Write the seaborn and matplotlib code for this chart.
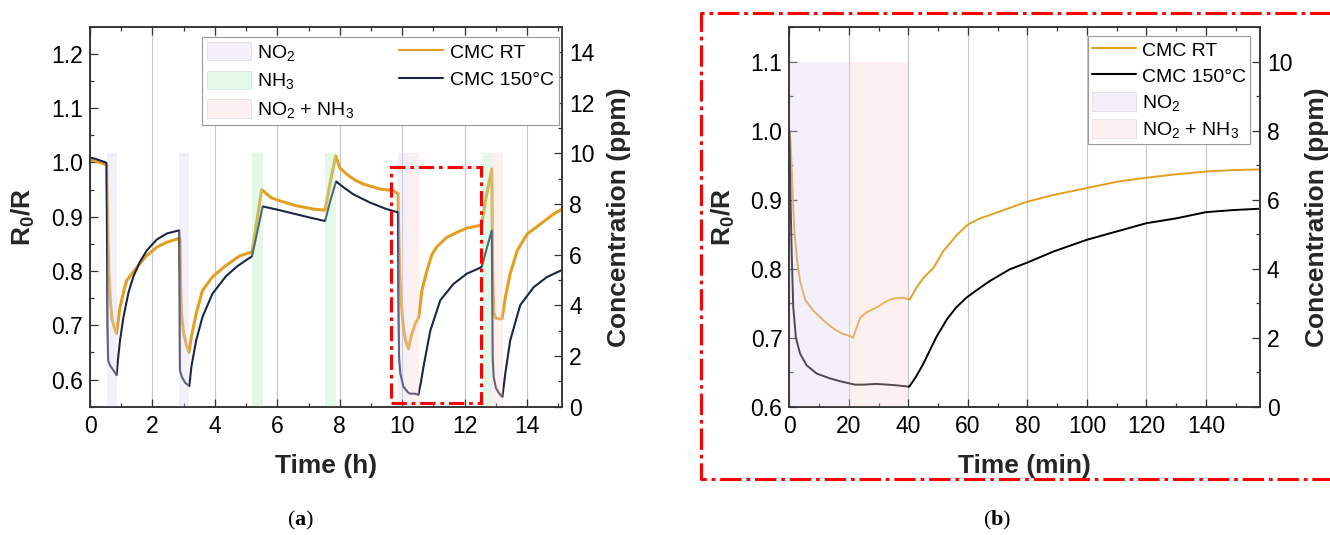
import numpy as np
import matplotlib
matplotlib.use("Agg")
import matplotlib.pyplot as plt
import seaborn as sns
from matplotlib.ticker import MultipleLocator, FormatStrFormatter
from matplotlib.patches import Patch, Rectangle
from matplotlib.lines import Line2D

# ---------------- data: panel (a) ----------------
t_a_rt = [0.00, 0.15, 0.30, 0.45, 0.53, 0.56, 0.60, 0.65, 0.70, 0.78, 0.85,
          0.96, 1.07, 1.17, 1.50, 1.81, 2.14, 2.46, 2.86,
          2.88, 2.90, 2.93, 3.00, 3.08, 3.17, 3.25, 3.40, 3.60, 3.92, 4.35, 4.80, 5.19,
          5.35, 5.50, 5.60, 5.80, 6.09, 6.62, 7.16, 7.53,
          7.70, 7.87, 8.00, 8.23, 8.50, 8.76, 9.29, 9.72, 9.87,
          9.88, 9.92, 9.97, 10.05, 10.12, 10.20, 10.30, 10.42, 10.53,
          10.63, 10.79, 10.95, 11.10, 11.43, 11.75, 12.07, 12.50,
          12.55, 12.70, 12.87, 12.90, 12.93, 13.00, 13.10, 13.20,
          13.30, 13.46, 13.68, 14.00, 14.42, 14.85, 15.13]
rt_a = [1.005, 1.003, 1.000, 0.997, 0.995, 0.900, 0.800, 0.745, 0.712, 0.695, 0.685,
        0.733, 0.760, 0.782, 0.807, 0.828, 0.844, 0.853, 0.860,
        0.860, 0.780, 0.720, 0.685, 0.665, 0.650, 0.680, 0.721, 0.764, 0.789, 0.810, 0.828, 0.835,
        0.895, 0.950, 0.945, 0.935, 0.929, 0.920, 0.914, 0.912,
        0.965, 1.012, 0.990, 0.978, 0.967, 0.960, 0.951, 0.948, 0.942,
        0.900, 0.800, 0.740, 0.690, 0.670, 0.657, 0.683, 0.703, 0.715,
        0.764, 0.800, 0.830, 0.844, 0.862, 0.871, 0.879, 0.884,
        0.887, 0.940, 0.988, 0.800, 0.725, 0.713, 0.712, 0.712,
        0.750, 0.795, 0.837, 0.868, 0.886, 0.905, 0.914]

t_a_150 = [0.00, 0.15, 0.30, 0.45, 0.53, 0.56, 0.58, 0.65, 0.75, 0.85,
           0.90, 0.96, 1.07, 1.23, 1.39, 1.60, 1.82, 2.14, 2.46, 2.86,
           2.88, 2.94, 3.05, 3.18, 3.25, 3.40, 3.60, 3.92, 4.35, 4.70, 5.00, 5.19,
           5.35, 5.53, 6.00, 6.50, 7.00, 7.53,
           7.70, 7.88, 8.10, 8.44, 8.97, 9.50, 9.87,
           9.88, 9.90, 9.94, 10.04, 10.19, 10.26, 10.40, 10.52,
           10.60, 10.68, 10.90, 11.22, 11.64, 12.07, 12.50,
           12.55, 12.70, 12.87, 12.90, 12.93, 13.00, 13.10, 13.21,
           13.30, 13.46, 13.78, 14.21, 14.64, 15.13]
c150_a = [1.009, 1.007, 1.004, 1.001, 0.999, 0.700, 0.635, 0.625, 0.617, 0.608,
          0.640, 0.672, 0.715, 0.760, 0.790, 0.817, 0.838, 0.858, 0.869, 0.875,
          0.617, 0.605, 0.594, 0.588, 0.625, 0.672, 0.715, 0.758, 0.790, 0.808, 0.820, 0.827,
          0.870, 0.919, 0.913, 0.906, 0.899, 0.892,
          0.930, 0.965, 0.955, 0.941, 0.926, 0.914, 0.908,
          0.750, 0.640, 0.611, 0.587, 0.576, 0.574, 0.574, 0.572,
          0.595, 0.623, 0.690, 0.746, 0.776, 0.795, 0.806,
          0.808, 0.840, 0.875, 0.640, 0.605, 0.585, 0.575, 0.568,
          0.610, 0.672, 0.737, 0.770, 0.789, 0.802]

band_a_start = [0.53, 2.85, 5.19, 7.53, 9.87, 10.19, 12.55, 12.87]
band_a_end = [0.85, 3.17, 5.53, 7.87, 10.19, 10.53, 12.87, 13.22]
band_a_gas = ["NO2", "NO2", "NH3", "NH3", "NO2", "MIX", "NH3", "MIX"]
band_a_conc = [10, 10, 10, 10, 10, 10, 10, 10]

# ---------------- data: panel (b) ----------------
t_b_rt = [0.0, 0.3, 0.8, 1.6, 2.5, 3.6, 5.3, 8.1, 11.5, 14.9, 17.7, 20.0, 21.4,
          23.8, 26.0, 29.4, 32.7, 35.0, 38.4, 40.4, 42.8, 45.1, 48.4, 51.8, 54.0,
          56.3, 60.0, 64.1, 67.5, 72.0, 79.8, 88.8, 100.0, 110.0, 120.1, 130.2,
          140.3, 149.3, 158.2]
rt_b = [1.000, 0.990, 0.945, 0.860, 0.815, 0.782, 0.755, 0.739, 0.725, 0.713, 0.706, 0.703, 0.700,
        0.729, 0.737, 0.744, 0.753, 0.757, 0.758, 0.755, 0.773, 0.787, 0.801, 0.826, 0.837,
        0.849, 0.864, 0.873, 0.878, 0.885, 0.897, 0.907, 0.917, 0.926, 0.932, 0.937,
        0.941, 0.943, 0.944]

t_b_150 = [0.0, 0.4, 0.8, 1.3, 2.2, 3.6, 5.8, 9.2, 13.7, 17.0, 20.0, 22.0, 25.0,
           29.3, 33.0, 36.0, 40.3, 42.5, 45.0, 49.4, 53.0, 56.1, 59.5, 63.0, 67.3,
           74.0, 80.0, 88.8, 100.0, 110.0, 120.0, 130.0, 140.0, 149.0, 158.2]
c150_b = [1.000, 0.900, 0.820, 0.745, 0.700, 0.677, 0.660, 0.648, 0.641, 0.637, 0.634, 0.632, 0.632,
          0.633, 0.632, 0.631, 0.629, 0.643, 0.662, 0.701, 0.727, 0.744, 0.758, 0.769, 0.782,
          0.799, 0.809, 0.825, 0.842, 0.854, 0.866, 0.873, 0.882, 0.885, 0.887]

band_b_start = [0, 20]
band_b_end = [20, 40]
band_b_gas = ["NO2", "MIX"]
band_b_conc = [10, 10]

gas_labels = {"NO2": "NO$_2$", "NH3": "NH$_3$", "MIX": "NO$_2$ + NH$_3$"}
gas_colors = {"NO2": "#E2D4F1", "NH3": "#B2EBC0", "MIX": "#FCD4D4"}
BAND_ALPHA = 0.35

C_RT = "#E1A023"
C_150_A = "#1B2646"
C_150_B = "#000000"

# ---------------- style ----------------
sns.set_theme(style="white")
plt.rcParams.update({
    "font.family": ["Liberation Sans", "DejaVu Sans"],
    "mathtext.fontset": "custom",
    "mathtext.rm": "Liberation Sans",
    "mathtext.bf": "Liberation Serif:bold",
    "mathtext.default": "regular",
    "axes.edgecolor": "#333333",
    "axes.linewidth": 1.1,
    "text.color": "black",
    "xtick.color": "#333333",
    "ytick.color": "#333333",
    "xtick.labelcolor": "black",
    "ytick.labelcolor": "black",
})

fig = plt.figure(figsize=(13.3, 5.35), dpi=100)
axA = fig.add_axes([0.0677, 0.2398, 0.3551, 0.7103])
axB = fig.add_axes([0.5935, 0.2398, 0.3539, 0.7092])

TICK_FS = 16.5
LABEL_FS = 19
LEG_FS = 14


def style_axes(ax, ax2, xmaj, xmin, ymaj, ymin, y2maj, y2min):
    ax.xaxis.set_major_locator(MultipleLocator(xmaj))
    ax.xaxis.set_minor_locator(MultipleLocator(xmin))
    ax.yaxis.set_major_locator(MultipleLocator(ymaj))
    ax.yaxis.set_minor_locator(MultipleLocator(ymin))
    ax.yaxis.set_major_formatter(FormatStrFormatter("%.1f"))
    ax2.yaxis.set_major_locator(MultipleLocator(y2maj))
    ax2.yaxis.set_minor_locator(MultipleLocator(y2min))
    ax.tick_params(which="both", direction="in", top=True, bottom=True,
                   left=True, right=False, width=0.9, labelsize=TICK_FS)
    ax.tick_params(which="major", length=5.5)
    ax.tick_params(which="minor", length=3)
    ax.tick_params(axis="x", pad=6)
    ax.tick_params(axis="y", pad=5)
    ax2.tick_params(which="both", direction="in", right=True, left=False,
                    width=0.9, labelsize=TICK_FS, pad=5)
    ax2.tick_params(which="major", length=5.5)
    ax2.tick_params(which="minor", length=3)
    ax.grid(False)
    ax2.grid(False)
    ax.grid(axis="x", which="major", color="#C8C8C8", lw=0.9)
    for sp in list(ax.spines.values()) + list(ax2.spines.values()):
        sp.set_linewidth(1.1)
        sp.set_color("#333333")


def draw_bands(ax2, starts, ends, gases, concs):
    for s, e, g, c in zip(starts, ends, gases, concs):
        ax2.bar(s, c, width=e - s, align="edge", color=gas_colors[g],
                alpha=BAND_ALPHA, linewidth=0)


def band_handle(g):
    return Patch(facecolor=gas_colors[g], alpha=BAND_ALPHA,
                 edgecolor="#B8B0C8", linewidth=0.6, label=gas_labels[g])


# ---------------- panel (a) ----------------
sns.lineplot(x=t_a_rt, y=rt_a, ax=axA, color=C_RT, linewidth=2.2,
             estimator=None, sort=False)
sns.lineplot(x=t_a_150, y=c150_a, ax=axA, color=C_150_A, linewidth=1.5,
             estimator=None, sort=False)
axA2 = axA.twinx()
draw_bands(axA2, band_a_start, band_a_end, band_a_gas, band_a_conc)
axA2.add_patch(Rectangle((9.65, 0.556), 2.87, 0.436, transform=axA.transData,
                         fill=False, edgecolor="red", lw=2.2,
                         ls=(0, (5, 1.6, 1.2, 1.6)), zorder=20, clip_on=False))
axA.set_xlim(0, 15.13)
axA.set_ylim(0.55, 1.25)
axA2.set_ylim(0, 15)
style_axes(axA, axA2, 2, 1, 0.1, 0.05, 2, 1)
axA.set_xlabel("Time (h)", fontsize=LABEL_FS, fontweight="bold")
axA.set_ylabel("R$_0$/R", fontsize=LABEL_FS, fontweight="bold")
axA2.set_ylabel("Concentration (ppm)", fontsize=LABEL_FS, fontweight="bold")
axA.xaxis.set_label_coords(0.5, -0.125)
axA.yaxis.set_label_coords(-0.112, 0.5)
axA2.yaxis.set_label_coords(1.094, 0.5)

hA = [band_handle("NO2"), band_handle("NH3"), band_handle("MIX"),
      Line2D([], [], color=C_RT, lw=1.5, label="CMC RT"),
      Line2D([], [], color=C_150_A, lw=1.5, label="CMC 150°C")]
legA = axA2.legend(handles=hA, ncol=2, loc="upper left",
                   bbox_to_anchor=(202 / 1330, (535 - 37) / 535),
                   bbox_transform=fig.transFigure, borderaxespad=0,
                   fontsize=LEG_FS, frameon=True, fancybox=False,
                   edgecolor="#999999", framealpha=1, borderpad=0.25,
                   labelspacing=0.42, handlelength=2.25, handleheight=1.05,
                   handletextpad=0.35, columnspacing=2.3)
legA.get_frame().set_linewidth(0.8)

# ---------------- panel (b) ----------------
sns.lineplot(x=t_b_rt, y=rt_b, ax=axB, color=C_RT, linewidth=1.4,
             estimator=None, sort=False)
sns.lineplot(x=t_b_150, y=c150_b, ax=axB, color=C_150_B, linewidth=1.4,
             estimator=None, sort=False)
axB2 = axB.twinx()
draw_bands(axB2, band_b_start, band_b_end, band_b_gas, band_b_conc)
axB.set_xlim(0, 158.2)
axB.set_ylim(0.6, 1.15)
axB2.set_ylim(0, 11)
style_axes(axB, axB2, 20, 10, 0.1, 0.05, 2, 1)
axB.set_xlabel("Time (min)", fontsize=LABEL_FS, fontweight="bold")
axB.set_ylabel("R$_0$/R", fontsize=LABEL_FS, fontweight="bold")
axB2.set_ylabel("Concentration (ppm)", fontsize=LABEL_FS, fontweight="bold")
axB.xaxis.set_label_coords(0.5, -0.125)
axB.yaxis.set_label_coords(-0.111, 0.5)
axB2.yaxis.set_label_coords(1.0956, 0.5)

hB = [Line2D([], [], color=C_RT, lw=1.5, label="CMC RT"),
      Line2D([], [], color=C_150_B, lw=1.5, label="CMC 150°C"),
      band_handle("NO2"), band_handle("MIX")]
legB = axB2.legend(handles=hB, ncol=1, loc="upper right",
                   bbox_to_anchor=(1250 / 1330, (535 - 35.7) / 535),
                   bbox_transform=fig.transFigure, borderaxespad=0,
                   fontsize=LEG_FS, frameon=True, fancybox=False,
                   edgecolor="#999999", framealpha=1, borderpad=0.2,
                   labelspacing=0.32, handlelength=2.3, handleheight=1.1,
                   handletextpad=0.3)
legB.get_frame().set_linewidth(0.8)

# red dash-dot frame around panel (b)
fig.add_artist(Line2D([1.02, 0.527, 0.527, 1.02],
                      [0.9763, 0.9763, 0.1041, 0.1041],
                      transform=fig.transFigure, color="red", lw=2.2,
                      ls=(0, (7, 1.6, 1.2, 1.6))))

# panel letters
fig.text(0.2263, 0.028, r"($\mathbf{a}$)", family="Liberation Serif",
         fontsize=16, ha="center", va="center")
fig.text(0.7500, 0.028, r"($\mathbf{b}$)", family="Liberation Serif",
         fontsize=16, ha="center", va="center")

fig.savefig("out.png", dpi=100)
